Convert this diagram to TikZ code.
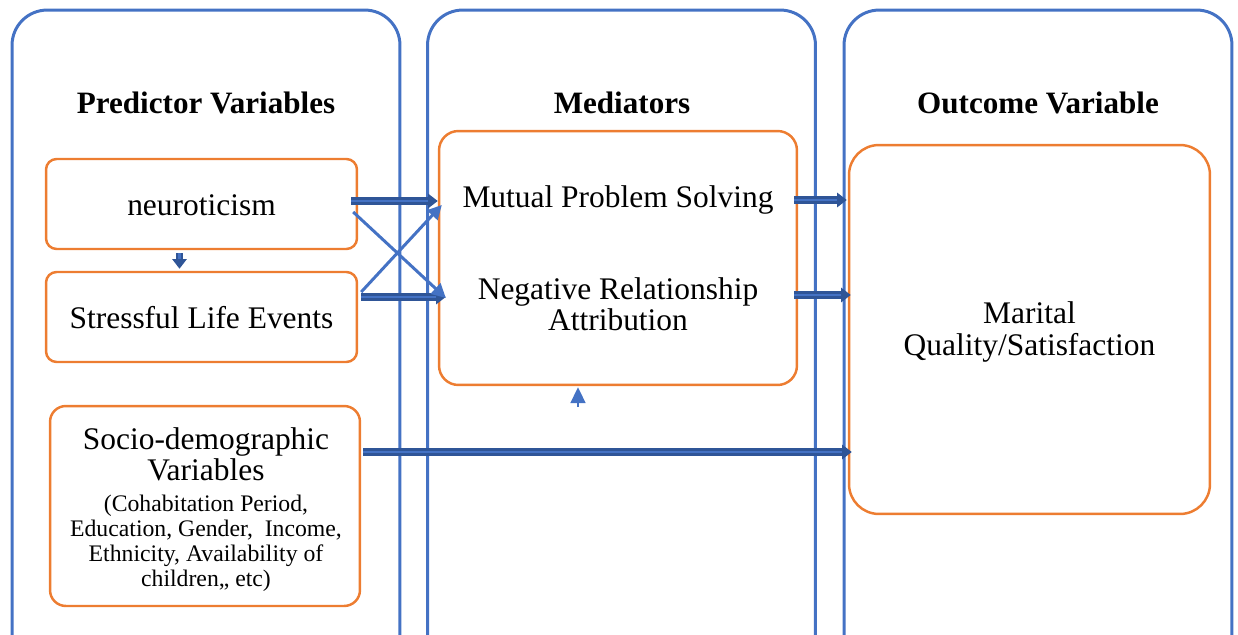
\documentclass[tikz,border=0pt]{standalone}
\usepackage{fontspec}
\setmainfont{Liberation Serif}
\usetikzlibrary{calc,arrows.meta}
\definecolor{pblue}{HTML}{4472C4}
\definecolor{pdark}{HTML}{2F5597}
\definecolor{porange}{HTML}{ED7D31}
\tikzset{
  panel/.style={draw=pblue,line width=1.7pt,rounded corners=20pt,minimum width=7.76cm,minimum height=13.4cm},
  obox/.style={draw=porange,line width=1.4pt,fill=white,rounded corners=#1},
  obox/.default=6pt,
  ttl/.style={font=\fontsize{17.7}{18}\selectfont\bfseries},
  big/.style={font=\fontsize{17.9}{17.8}\selectfont,align=center},
  small/.style={font=\fontsize{13.5}{14.2}\selectfont,align=center},
  dbl/.style={draw=pdark,line width=4pt,-{Triangle[length=5.5pt,width=8pt]},
    postaction={draw=pblue,line width=1.2pt,-,shorten >=5.5pt}},
  thin/.style={draw=pblue,line width=1.7pt,-{Triangle[length=8pt,width=8pt]}},
}
\begin{document}
\begin{tikzpicture}[x=0.02cm,y=-0.02cm]
\useasboundingbox (0,0) rectangle (1238,635);
\clip (0,0) rectangle (1238,635);
% panels
\node[panel] (p1) at (206,345) {};
\node[panel] (p2) at (621.5,345) {};
\node[panel] (p3) at (1038,345) {};
% titles
\node[ttl] (t1) at (206,103) {Predictor Variables};
\node[ttl] (t2) at (622,103) {Mediators};
\node[ttl] (t3) at (1038,103) {Outcome Variable};
% orange boxes
\node[obox,minimum width=6.22cm,minimum height=1.8cm] (neuro) at (201.5,204) {};
\node[big] (neurot) at (201.5,205) {neuroticism};
\node[obox,minimum width=6.22cm,minimum height=1.8cm] (stress) at (201.5,317) {};
\node[big] (stresst) at (201.5,318) {Stressful Life Events};
\node[obox=9pt,minimum width=6.2cm,minimum height=4cm] (socio) at (205,506) {};
\node[big] (sociot) at (206,454) {Socio-demographic\\Variables};
\node[small] (sociod) at (206,543) {(Cohabitation Period,\\Education, Gender,\ \ Income,\\Ethnicity, Availability of\\children,, etc)};
\node[obox=11pt,minimum width=7.16cm,minimum height=5.08cm] (med) at (618,258) {};
\node[big] (mps) at (618,200) {Mutual Problem Solving};
\node[big] (nra) at (618,304) {Negative Relationship\\Attribution};
\node[obox=17pt,minimum width=7.22cm,minimum height=7.38cm] (out) at (1029.5,329.5) {};
\node[big] (outt) at (1029.5,332) {Marital\\Quality/Satisfaction};
% connectors
\coordinate (a1) at ($(neuro.east)+(-7,-3)$);
\draw[dbl] (a1) -- (a1 -| med.west);
\coordinate (a2) at ($(stress.east)+(3,-20)$);
\draw[dbl] (a2) -- ($(a2 -| med.west)+(8,0)$);
\draw[thin] ($(neuro.east)+(-5,8)$) -- ($(med.west)+(8,40)$);
\draw[thin] ($(stress.east)+(3,-25)$) -- ($(med.west)+(4,-53)$);
\draw[dbl] ($(neuro.south)+(-22,3)$) -- ($(stress.north)+(-22,-2)$);
\draw[draw=pblue,line width=0.9pt,-{Triangle[length=9pt,width=8.5pt]}] ($(med.south)+(-40,21)$) -- ($(med.south)+(-40,1)$);
\coordinate (a3) at ($(med.east)+(-4,-58)$);
\draw[dbl] (a3) -- ($(a3 -| out.west)+(-1,0)$);
\coordinate (a4) at ($(med.east)+(-4,37)$);
\draw[dbl] (a4) -- ($(a4 -| out.west)+(3,0)$);
\coordinate (a5) at ($(socio.east)+(2,-54)$);
\draw[dbl] (a5) -- ($(a5 -| out.west)+(4,0)$);
\end{tikzpicture}
\end{document}
